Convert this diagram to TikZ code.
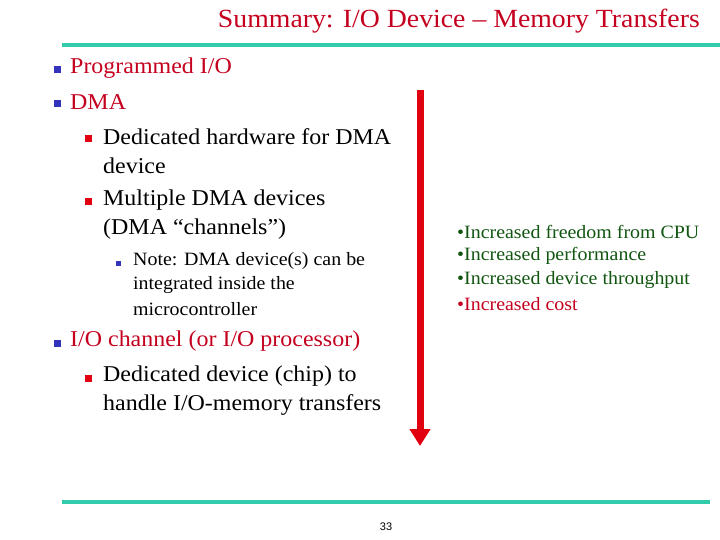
\documentclass[tikz,border=0pt]{standalone}
\usepackage{fontspec}
\setmainfont{Liberation Serif}[FakeStretch=1.06]
\setsansfont{Liberation Sans}
\usetikzlibrary{arrows.meta}
\definecolor{ttl}{HTML}{C4001E}
\definecolor{teal}{HTML}{33CCAA}
\definecolor{bblue}{HTML}{3333BB}
\definecolor{bred}{HTML}{E00010}
\definecolor{dgreen}{HTML}{115511}
\tikzset{
 t/.style={anchor=west,inner sep=0pt,font=\fontsize{22.6}{22.6}\selectfont},
 ts/.style={anchor=west,inner sep=0pt,font=\fontsize{18.8}{18.8}\selectfont},
 sq/.style={fill=#1,minimum size=7pt,inner sep=0pt},
 sqs/.style={fill=#1,minimum size=5pt,inner sep=0pt},
}
\begin{document}
\begin{tikzpicture}[x=1pt,y=-1pt]
\useasboundingbox (0,0) rectangle (720,540);
\node[anchor=east,inner sep=0pt,text=ttl,font=\fontsize{26.2}{26.2}\selectfont] (title) at (700,21) {Summary: I/O Device -- Memory Transfers};
\draw[teal,line width=3.5pt] (62,45) -- (720,45);
\draw[teal,line width=3.5pt] (62,502) -- (710,502);
% level 1
\node[sq=bblue] (b1) at (57,70) {}; \node[t,text=ttl] (l1) at (70,68) {Programmed I/O};
\node[sq=bblue] (b2) at (57,104) {}; \node[t,text=ttl] (l2) at (70,102) {DMA};
\node[sq=bred] (b3) at (88,139) {}; \node[t] (l3) at (103,137) {Dedicated hardware for DMA};
\node[t] (l4) at (103,166) {device};
\node[sq=bred] (b4) at (88,202) {}; \node[t] (l5) at (103,200) {Multiple DMA devices};
\node[t] (l6) at (103,229) {(DMA ``channels'')};
\node[sqs=bblue] (b5) at (118,263) {}; \node[ts] (l7) at (133,261) {Note: DMA device(s) can be};
\node[ts] (l8) at (133,285) {integrated inside the};
\node[ts] (l9) at (133,309) {microcontroller};
\node[sq=bblue] (b6) at (57,343) {}; \node[t,text=ttl] (l10) at (70,341) {I/O channel (or I/O processor)};
\node[sq=bred] (b7) at (88,378) {}; \node[t] (l11) at (103,376) {Dedicated device (chip) to};
\node[t] (l12) at (103,405) {handle I/O-memory transfers};
% arrow
\coordinate (a1) at (420,90); \coordinate (a2) at (420,446);
\draw[bred,line width=7pt,-{Triangle[width=20pt,length=17pt]}] (a1) -- (a2);
% right list
\node[ts,text=dgreen] (r1) at (457,232) {•Increased freedom from CPU};
\node[ts,text=dgreen] (r2) at (457,256) {•Increased performance};
\node[ts,text=dgreen] (r3) at (457,280) {•Increased device throughput};
\node[ts,text=ttl] (r4) at (457,304) {•Increased cost};
\node[inner sep=0pt,font=\sffamily\fontsize{11}{11}\selectfont] (pg) at (386,527) {33};
\end{tikzpicture}
\end{document}
